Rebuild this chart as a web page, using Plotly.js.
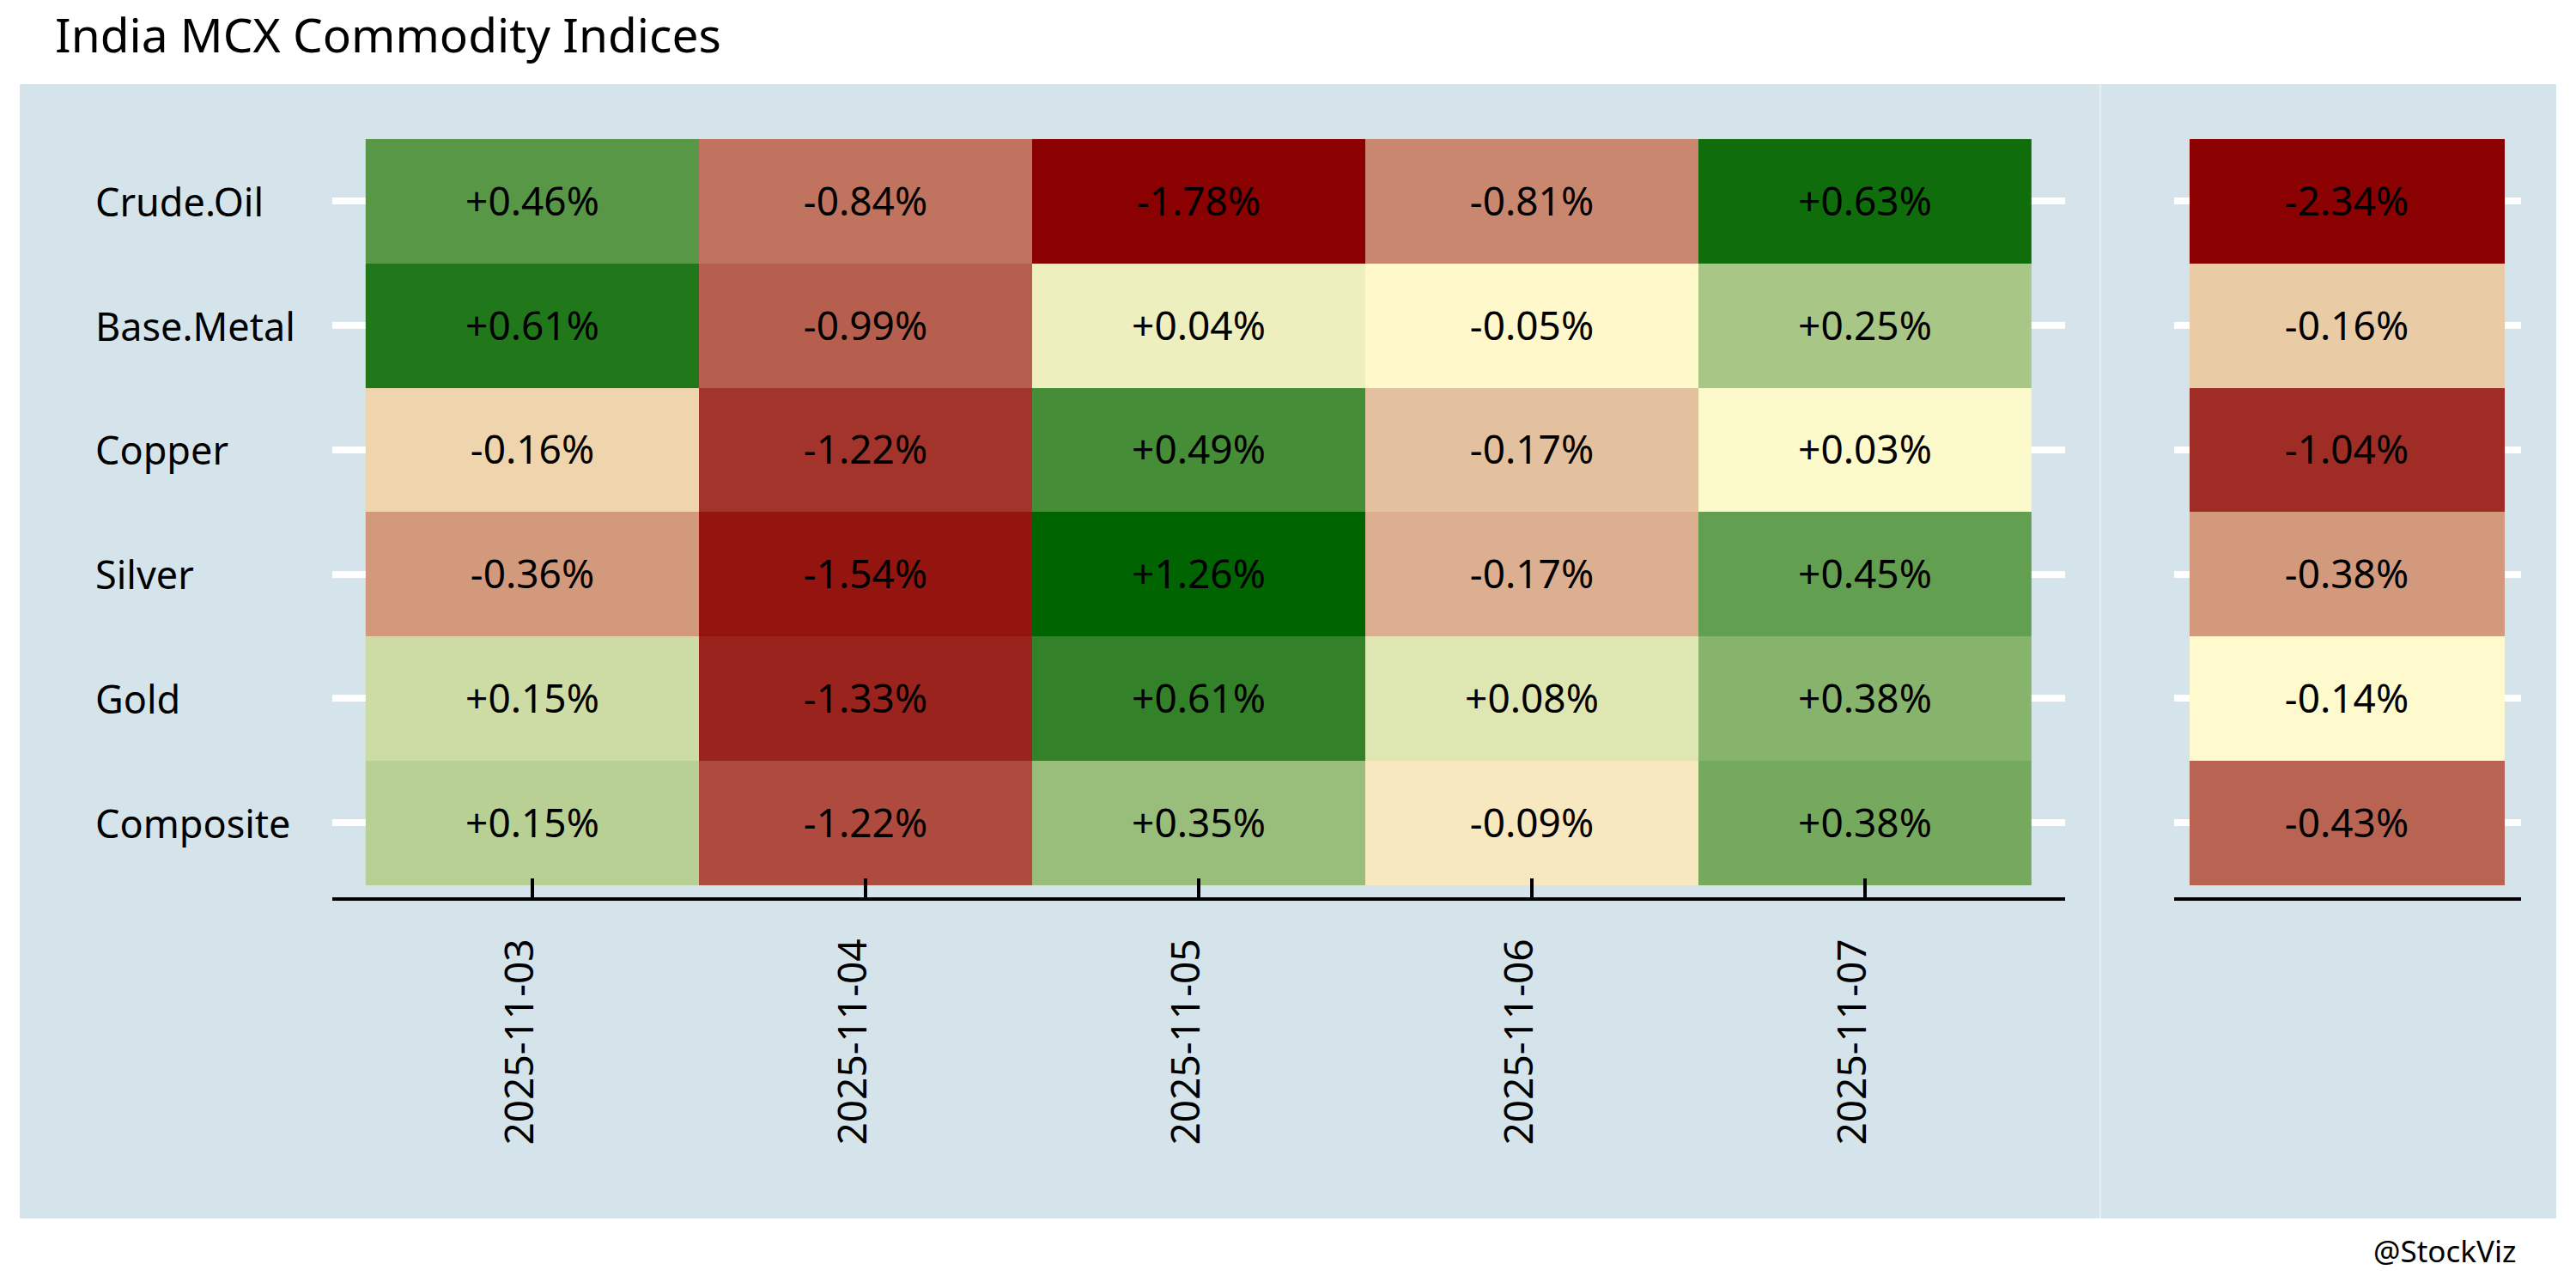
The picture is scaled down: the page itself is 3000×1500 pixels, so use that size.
<!DOCTYPE html>
<html>
<head>
<meta charset="utf-8">
<script src="https://cdn.plot.ly/plotly-3.0.1.min.js"></script>
<style>html,body{margin:0;padding:0;background:#fff;}#chart{width:3000px;height:1500px;}</style>
</head>
<body>
<div id="chart"></div>
<script>
// ---- data ----
const dates = ['2025-11-03', '2025-11-04', '2025-11-05', '2025-11-06', '2025-11-07'];
const indices = ['Crude.Oil', 'Base.Metal', 'Copper', 'Silver', 'Gold', 'Composite'];
// daily returns (%) per index (rows) and date (columns)
const crudeOil  = [0.46, -0.84, -1.78, -0.81, 0.63];
const baseMetal = [0.61, -0.99, 0.04, -0.05, 0.25];
const copper    = [-0.16, -1.22, 0.49, -0.17, 0.03];
const silver    = [-0.36, -1.54, 1.26, -0.17, 0.45];
const gold      = [0.15, -1.33, 0.61, 0.08, 0.38];
const composite = [0.15, -1.22, 0.35, -0.09, 0.38];
// fill intensity (-1 dark red .. 0 pale yellow .. +1 dark green)
const crudeOilFill  = [0.66, -0.54, -1.00, -0.46, 0.94];
const baseMetalFill = [0.87, -0.62, 0.07, -0.01, 0.34];
const copperFill    = [-0.15, -0.79, 0.73, -0.23, 0.01];
const silverFill    = [-0.39, -0.92, 1.00, -0.30, 0.61];
const goldFill      = [0.20, -0.86, 0.80, 0.13, 0.47];
const compositeFill = [0.28, -0.70, 0.40, -0.07, 0.54];
// period (week) returns (%) per index
const periodReturns = [-2.34, -0.16, -1.04, -0.38, -0.14, -0.43];
const periodFill    = [-1.00, -0.19, -0.82, -0.39, 0.00, -0.60];
const periodLabel = ['Week'];

// ---- build ----
const dailyReturns = [crudeOil, baseMetal, copper, silver, gold, composite];
const dailyFill = [crudeOilFill, baseMetalFill, copperFill, silverFill, goldFill, compositeFill];
const fmt = v => (v > 0 ? '+' : '') + v.toFixed(2) + '%';
const FONT = 'Noto Sans, Open Sans, DejaVu Sans, sans-serif';
const scale = [[0, '#8B0000'], [0.5, '#FFFACD'], [1, '#006400']];

const tr1 = {
  type: 'heatmap', x: dates, y: indices, z: dailyFill,
  text: dailyReturns.map(r => r.map(fmt)), texttemplate: '%{text}',
  textfont: {family: FONT, size: 46, color: '#000'},
  colorscale: scale, zmin: -1, zmax: 1, showscale: false, hoverinfo: 'skip',
  xaxis: 'x', yaxis: 'y'
};
const tr2 = {
  type: 'heatmap', x: periodLabel, y: indices, z: periodFill.map(v => [v]),
  text: periodReturns.map(v => [fmt(v)]), texttemplate: '%{text}',
  textfont: {family: FONT, size: 46, color: '#000'},
  colorscale: scale, zmin: -1, zmax: 1, showscale: false, hoverinfo: 'skip',
  xaxis: 'x2', yaxis: 'y2'
};

const W = 3000, H = 1500;
const px = v => v / W, py = v => 1 - v / H;
const yDom = [py(1045), py(147.5)];

const layout = {
  width: W, height: H,
  margin: {l: 0, r: 0, t: 0, b: 0},
  paper_bgcolor: '#ffffff', plot_bgcolor: 'rgba(0,0,0,0)',
  font: {family: FONT, color: '#000'},
  showlegend: false,
  title: {text: 'India MCX Commodity Indices', x: px(64), xanchor: 'left', xref: 'container',
          y: 1 - 42 / H, yanchor: 'middle', yref: 'container', font: {family: FONT, size: 55, color: '#000'}},
  xaxis: {domain: [px(387), px(2405)], type: 'category', categoryarray: dates, range: [-0.6, 4.6],
          showgrid: false, zeroline: false, showline: true, linecolor: '#000', linewidth: 4,
          ticks: 'inside', ticklen: 22, tickwidth: 4, tickcolor: '#000', tickangle: -90,
          ticklabelstandoff: 26, ticklabelshift: -14,
          tickfont: {family: FONT, size: 46, color: '#000'}, anchor: 'y', fixedrange: true},
  yaxis: {domain: yDom, type: 'category', categoryarray: indices, range: [5.6, -0.6],
          showgrid: true, gridcolor: '#ffffff', gridwidth: 8, zeroline: false, showline: false,
          showticklabels: false, ticks: '', anchor: 'x', fixedrange: true},
  xaxis2: {domain: [px(2532), px(2936)], type: 'category', categoryarray: periodLabel, range: [-0.549, 0.552],
           showgrid: false, zeroline: false, showline: true, linecolor: '#000', linewidth: 4,
           ticks: '', showticklabels: false, anchor: 'y2', fixedrange: true},
  yaxis2: {domain: yDom, type: 'category', categoryarray: indices, range: [5.6, -0.6],
           showgrid: true, gridcolor: '#ffffff', gridwidth: 8, zeroline: false, showline: false,
           showticklabels: false, ticks: '', anchor: 'x2', fixedrange: true},
  shapes: [
    {type: 'rect', xref: 'paper', yref: 'paper', x0: px(23), x1: px(2977), y0: py(1419), y1: py(98),
     fillcolor: '#D5E3EB', line: {width: 0}, layer: 'below'},
    {type: 'line', xref: 'paper', yref: 'paper', x0: px(2446), x1: px(2446), y0: py(1419), y1: py(98),
     line: {color: '#E6EEF3', width: 2}, layer: 'below'}
  ],
  annotations: indices.map(name => ({
    text: name, xref: 'paper', x: px(109), xanchor: 'left', yref: 'y', y: name, yanchor: 'middle',
    showarrow: false, font: {family: FONT, size: 45, color: '#000'}
  })).concat([{
    text: '@StockViz', xref: 'paper', x: px(2932), xanchor: 'right', yref: 'paper', y: py(1456), yanchor: 'middle',
    showarrow: false, font: {family: FONT, size: 35, color: '#000'}
  }])
};

Plotly.newPlot('chart', [tr1, tr2], layout, {displayModeBar: false, staticPlot: true});
</script>
</body>
</html>
